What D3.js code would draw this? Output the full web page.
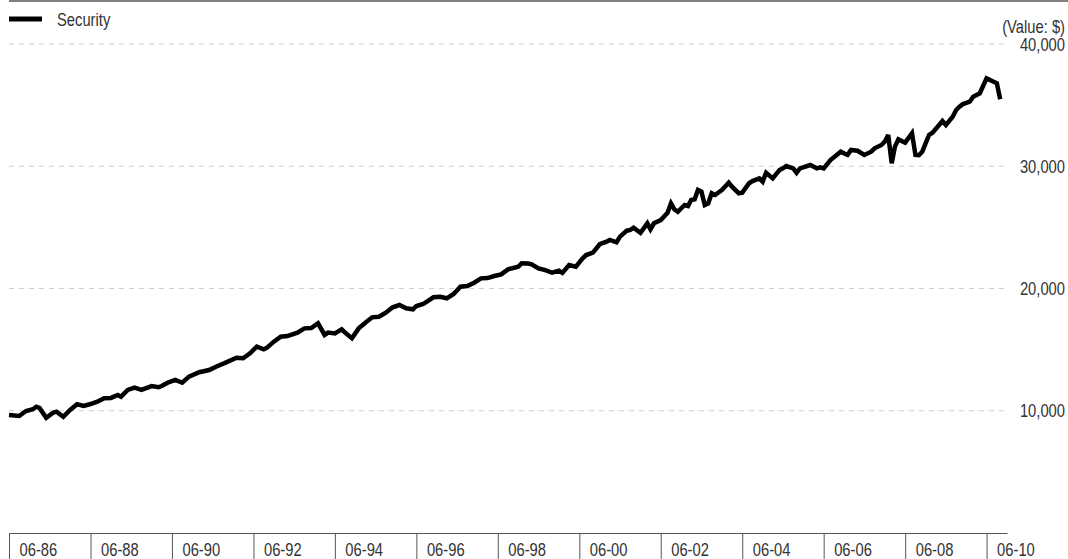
<!DOCTYPE html>
<html>
<head>
<meta charset="utf-8">
<script src="https://cdn.jsdelivr.net/npm/d3@7"></script>
<style>
html,body{margin:0;padding:0;background:#fff;}
svg{display:block;}
text{font-family:"Liberation Sans",Arial,sans-serif;fill:#333;}
</style>
</head>
<body>
<svg id="chart" width="1068" height="559"></svg>
<script>
const seriesName = "Security";
const unitLabel = "(Value: $)";
const dates = ["1986-06","1986-09","1986-11","1987-01","1987-02","1987-03","1987-05","1987-07","1987-08","1987-10","1987-12",
"1988-02","1988-04","1988-06","1988-08","1988-10","1988-12","1989-02","1989-03","1989-05","1989-07","1989-09","1989-12",
"1990-02","1990-03","1990-05","1990-07","1990-09","1990-11","1991-02","1991-05","1991-07","1991-10",
"1992-01","1992-03","1992-05","1992-07","1992-09","1992-10","1992-12","1993-02","1993-04","1993-07","1993-09","1993-11",
"1994-01","1994-03","1994-04","1994-06","1994-08","1994-09","1994-11","1995-01","1995-03","1995-05","1995-07","1995-09","1995-11",
"1996-01","1996-03","1996-05","1996-06","1996-08","1996-11","1997-01","1997-03","1997-05","1997-07","1997-09","1997-11",
"1998-01","1998-03","1998-05","1998-07","1998-09","1998-12","1999-01","1999-03","1999-04","1999-06","1999-08","1999-10","1999-12",
"2000-01","2000-03","2000-05","2000-07","2000-08","2000-10","2000-12","2001-02","2001-03","2001-05","2001-06","2001-08","2001-09","2001-10","2001-12",
"2002-02","2002-03","2002-04","2002-06","2002-08","2002-09","2002-10","2002-11","2003-01","2003-02","2003-03","2003-04","2003-05","2003-06",
"2003-07","2003-08","2003-09","2003-10","2003-12","2004-02","2004-03","2004-05","2004-06","2004-08","2004-09","2004-11","2004-12",
"2005-01","2005-03","2005-05","2005-06","2005-07","2005-09","2005-10","2005-11","2006-02","2006-04","2006-05","2006-06","2006-08","2006-11",
"2007-01","2007-02","2007-04","2007-06","2007-08","2007-09","2007-11","2007-12","2008-01","2008-02","2008-03","2008-04","2008-06",
"2008-08","2008-09","2008-10","2008-11","2009-01","2009-02","2009-04","2009-05","2009-06","2009-08","2009-09","2009-10","2009-11",
"2010-01","2010-02","2010-04","2010-06","2010-07","2010-09","2010-10","2010-12"];
const values = [9650,9570,9980,10120,10330,10230,9430,9840,9920,9510,10060,
10530,10390,10550,10740,11020,11050,11290,11150,11700,11890,11700,12020,
11920,12020,12330,12520,12290,12790,13150,13330,13600,13960,
14340,14290,14700,15240,15030,15160,15650,16060,16110,16390,16740,16760,
17150,16200,16390,16330,16660,16390,15930,16740,17200,17640,17690,18020,18460,
18650,18380,18300,18570,18730,19280,19330,19200,19550,20150,20200,20470,
20830,20850,21020,21160,21570,21780,22060,22040,21980,21650,21510,21290,21460,
21280,21920,21780,22470,22740,22930,23620,23830,23970,23780,24240,24730,24790,24970,24560,
25330,24840,25330,25600,26200,26970,26480,26280,26830,26750,27240,27300,28060,27920,
26830,26970,27790,27650,28060,28650,28330,27790,27840,28610,28790,29010,28740,
29470,29010,29690,29830,30020,29830,29470,29830,30100,29830,29910,29830,30510,31190,
30920,31330,31270,30920,31190,31470,31740,32010,32560,30240,31600,32200,31930,
32700,30920,30900,31190,32560,32740,33370,33700,33370,34050,34600,34870,
35090,35280,35690,35970,37190,37060,36790,35480];
const xTickDates = ["1986-06","1988-06","1990-06","1992-06","1994-06","1996-06","1998-06","2000-06","2002-06","2004-06","2006-06","2008-06","2010-06"];
const yTicks = [10000,20000,30000,40000];
const xDomain = ["1986-06","2010-12"];

(function(){
const parse = d3.timeParse("%Y-%m");
const data = dates.map((d,i)=>({date:parse(d), value:values[i]}));

const svg = d3.select("#chart");
const mLeft = 9, mRight = 1007, mBottom = 533, mTop = 44;
const fs = 18, sx = 0.82;
const narrow = (tx, ty) => `translate(${tx},${ty}) scale(${sx},1)`;

const x = d3.scaleTime().domain(xDomain.map(parse)).range([mLeft, mRight]);
const y = d3.scaleLinear().domain([0, 40000]).range([mBottom, mTop]);

// top border
svg.append("line").attr("x1", mLeft).attr("x2", 1068).attr("y1", 1).attr("y2", 1)
  .attr("stroke", "#808080").attr("stroke-width", 2);

// gridlines
svg.append("g").selectAll("line").data(yTicks).join("line")
  .attr("x1", mLeft).attr("x2", mRight)
  .attr("y1", d=>y(d)).attr("y2", d=>y(d))
  .attr("stroke", "#cfcfcf").attr("stroke-width", 1).attr("stroke-dasharray", "5,5");

// y labels
const fmt = d3.format(",");
svg.append("g").selectAll("text").data(yTicks).join("text")
  .attr("transform", d => narrow(1065, y(d)))
  .attr("dy", "0.37em")
  .attr("text-anchor", "end").attr("font-size", fs).text(d=>fmt(d));

svg.append("text").attr("transform", narrow(1065, 33)).attr("text-anchor", "end")
  .attr("font-size", fs).text(unitLabel);

// x axis
const xAxis = d3.axisBottom(x)
  .tickValues(xTickDates.map(parse))
  .tickFormat(d3.timeFormat("%m-%y"))
  .tickSize(26).tickSizeOuter(0);
const gx = svg.append("g").attr("transform", `translate(0,${mBottom})`).call(xAxis);
gx.attr("font-size", null).attr("font-family", null);
gx.select(".domain").attr("stroke", "#555").attr("stroke-width", 1);
gx.selectAll(".tick line").attr("stroke", "#555").attr("stroke-width", 1);
gx.selectAll(".tick text")
  .attr("x", null).attr("y", null).attr("dy", null)
  .attr("transform", narrow(10, 23))
  .attr("text-anchor", "start")
  .attr("font-size", fs)
  .attr("fill", "#333");

// line
const line = d3.line().x(d=>x(d.date)).y(d=>y(d.value));
svg.append("path").datum(data)
  .attr("d", line).attr("fill", "none")
  .attr("stroke", "#000").attr("stroke-width", 4.5)
  .attr("stroke-linejoin", "miter").attr("stroke-miterlimit", 3);

// legend
svg.append("line").attr("x1", 9).attr("x2", 42).attr("y1", 19).attr("y2", 19)
  .attr("stroke", "#000").attr("stroke-width", 5);
svg.append("text").attr("transform", narrow(57, 26)).attr("font-size", fs).text(seriesName);
})();
</script>
</body>
</html>
